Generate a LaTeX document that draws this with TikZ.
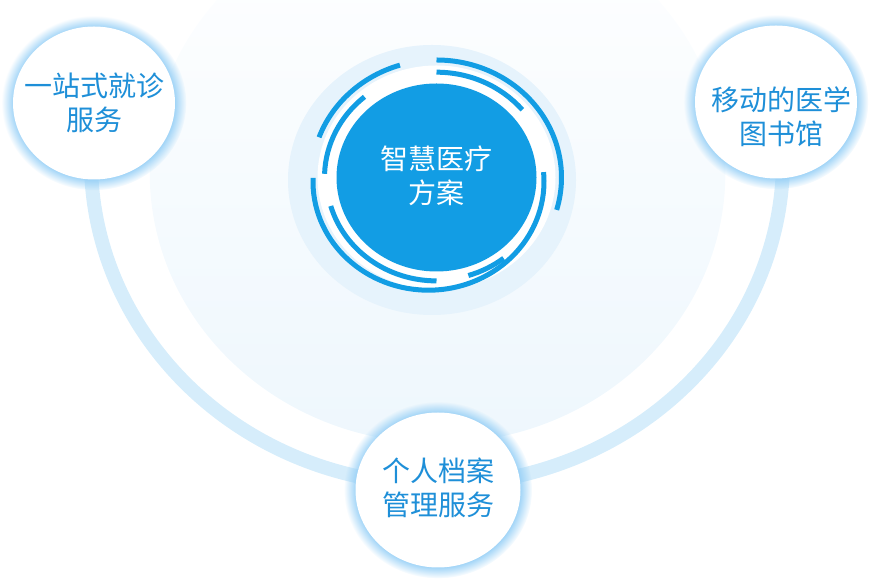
\documentclass[tikz,border=0pt]{standalone}
\usepackage{fontspec}
\newfontfamily\cjk{Noto Sans CJK SC}
\usetikzlibrary{shapes.geometric, shadows, fadings, positioning}

\definecolor{ringblue}{HTML}{129DE4}
\definecolor{textblue}{HTML}{1E8FD8}
\definecolor{bandblue}{HTML}{D6EDFB}
\definecolor{haloblue}{HTML}{E6F3FC}
\definecolor{paleblue}{HTML}{EEF7FD}
\definecolor{glowblue}{HTML}{93CEF6}

\begin{document}
\begin{tikzpicture}[
			x=1pt, y=1pt,
			bubble/.style={ellipse, fill=white, minimum width=162pt, minimum height=153pt, inner sep=0pt, circular glow={fill=glowblue, shadow scale=1.14}},
			bubbletext/.style={align=center, text=textblue, font=\cjk\fontsize{28}{34}\selectfont},
			hub/.style={ellipse, fill=ringblue, minimum width=200pt, minimum height=188pt, inner sep=0pt},
			hubtext/.style={align=center, text=white, font=\cjk\fontsize{28}{34}\selectfont},
			track/.style={draw=ringblue, line width=5pt}
			]
			
			\useasboundingbox (0,0) rectangle (870,580);
			
			% Background
			\fill[paleblue, path fading=north] (438,407) ellipse [x radius=288, y radius=270];
			\draw[bandblue, line width=14pt] (437,420) ++(170:346 and 325) arc[start angle=170, end angle=370, x radius=346, y radius=325];
			\fill[haloblue] (432,400) ellipse [x radius=144, y radius=135];
			\fill[white] (436.5,402.5) ellipse [x radius=119, y radius=112];
			
			% Hub
			\node (hub) [hub] at (436.5,402.5) {};
			\node (hub-label) [hubtext] at ([yshift=2pt]hub.center) {智慧医疗\\方案};
			
			% Rings
			\begin{scope}[shift={(hub.center)}]
				\draw [track] (107:125 and 117.5) arc[start angle=107, end angle=160, x radius=125, y radius=117.5];
				\draw [track] (-16:125 and 117.5) arc[start angle=-16, end angle=90, x radius=125, y radius=117.5];
				\draw [track] (130:112 and 105.3) arc[start angle=130, end angle=178, x radius=112, y radius=105.3];
				\draw [track] (40:112 and 105.3) arc[start angle=40, end angle=90, x radius=112, y radius=105.3];
				\draw [track] (196:110 and 103.4) arc[start angle=196, end angle=270, x radius=110, y radius=103.4];
				\draw [track] (287:109 and 102.5) arc[start angle=287, end angle=308, x radius=109, y radius=102.5];
			\end{scope}
			\draw [track] (428.5,398.4) ++(178:115.5 and 108.6) arc[start angle=178, end angle=365, x radius=115.5, y radius=108.6];
			
			% Nodes
			\node (onestop) [bubble] at (94,477) {};
			\node (library) [bubble] at (776,478) {};
			\node (records) [bubble, minimum width=165pt, minimum height=155pt] at (438,90) {};
			
			\node (onestop-label) [bubbletext] at (onestop) {一站式就诊\\服务};
			\node (library-label) [bubbletext] at ([xshift=5pt, yshift=-15pt]library.center) {移动的医学\\图书馆};
			\node (records-label) [bubbletext] at ([yshift=2pt]records.center) {个人档案\\管理服务};
			
		\end{tikzpicture}
\end{document}
